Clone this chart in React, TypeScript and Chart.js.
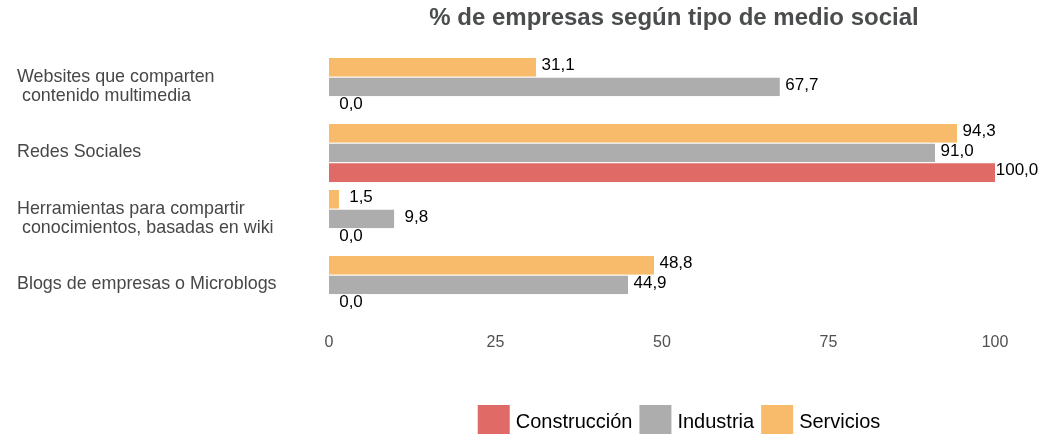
import React, { useEffect, useRef } from 'react';
import { Chart, registerables } from 'chart.js';

Chart.register(...registerables);

const chartTitle = '% de empresas según tipo de medio social';
const categories: (string | string[])[] = [
  ['Websites que comparten', ' contenido multimedia'],
  'Redes Sociales',
  ['Herramientas para compartir', ' conocimientos, basadas en wiki'],
  'Blogs de empresas o Microblogs',
];
const seriesNames = ['Servicios', 'Industria', 'Construcción'];
const servicios = [31.1, 94.3, 1.5, 48.8];
const industria = [67.7, 91.0, 9.8, 44.9];
const construccion = [0.0, 100.0, 0.0, 0.0];
const seriesColors = ['#F8BB6C', '#ADADAD', '#E06B66'];
const xTickValues = [0, 25, 50, 75, 100];

const FONT = "'Liberation Sans', Arial, sans-serif";

const fmt = (v: number) => v.toFixed(1).replace('.', ',');

const labelsPlugin = {
  id: 'valueLabels',
  afterDatasetsDraw(chart: any) {
    const ctx = chart.ctx;
    ctx.save();
    ctx.font = `17px ${FONT}`;
    ctx.fillStyle = '#000';
    ctx.textAlign = 'center';
    ctx.textBaseline = 'middle';
    chart.data.datasets.forEach((ds: any, di: number) => {
      const meta = chart.getDatasetMeta(di);
      meta.data.forEach((el: any, i: number) => {
        const v = ds.data[i];
        ctx.fillText(fmt(v), el.x + 22, el.y - 1.5);
      });
    });
    ctx.restore();
  },
};

const titlePlugin = {
  id: 'customTitle',
  afterDraw(chart: any) {
    const ctx = chart.ctx;
    ctx.save();
    ctx.font = `bold 24px ${FONT}`;
    ctx.fillStyle = '#4A4C4D';
    ctx.textAlign = 'center';
    ctx.textBaseline = 'middle';
    ctx.fillText(chartTitle, 674, 18);
    ctx.restore();
  },
};

const legendPlugin = {
  id: 'customLegend',
  afterDraw(chart: any) {
    const ctx = chart.ctx;
    const order = [2, 1, 0];
    const box = 32;
    const gapText = 6;
    const gapItem = 7;
    const cy = 421;
    ctx.save();
    ctx.font = `20px ${FONT}`;
    const widths = order.map((i) => ctx.measureText(chart.data.datasets[i].label).width);
    const total = widths.reduce((a: number, w: number) => a + box + gapText + w, 0) + gapItem * (order.length - 1);
    let x = 679 - total / 2;
    ctx.textBaseline = 'middle';
    ctx.textAlign = 'left';
    order.forEach((di, k) => {
      const ds = chart.data.datasets[di];
      ctx.fillStyle = ds.backgroundColor;
      ctx.fillRect(x, cy - box / 2, box, box);
      x += box + gapText;
      ctx.fillStyle = '#000';
      ctx.fillText(ds.label, x, cy + 1);
      x += widths[k] + gapItem;
    });
    ctx.restore();
  },
};

export default function App() {
  const ref = useRef<HTMLCanvasElement>(null);
  useEffect(() => {
    if (!ref.current) return;
    const seriesData = [servicios, industria, construccion];
    const chart = new Chart(ref.current, {
      type: 'bar',
      data: {
        labels: categories,
        datasets: seriesNames.map((name, i) => ({
          label: name,
          data: seriesData[i],
          backgroundColor: seriesColors[i],
          borderColor: 'rgba(255,255,255,0.7)',
          borderWidth: { top: 1, right: 0, bottom: 0, left: 0 },
          borderSkipped: false,
          categoryPercentage: 0.894,
          barPercentage: 1.0,
        })),
      },
      options: {
        indexAxis: 'y',
        responsive: false,
        animation: false,
        layout: { padding: { left: 17, right: 47, top: 53.5, bottom: 0 } },
        plugins: {
          legend: { display: false },
          title: { display: false },
          tooltip: { enabled: false },
        },
        scales: {
          x: {
            min: 0,
            max: 100,
            afterBuildTicks: (scale: any) => {
              scale.ticks = xTickValues.map((v) => ({ value: v }));
            },
            afterFit: (scale: any) => {
              scale.height = 116.5;
            },
            grid: { display: false, drawTicks: false },
            border: { display: false },
            ticks: {
              font: { family: FONT, size: 16 },
              color: '#505050',
              padding: 15,
              maxRotation: 0,
            },
          },
          y: {
            afterFit: (scale: any) => {
              scale.width = 312;
            },
            grid: { display: false, drawTicks: false },
            border: { display: false },
            ticks: {
              font: { family: FONT, size: 17.9, lineHeight: 1.1 },
              color: '#474747',
              crossAlign: 'far',
              padding: 0,
            },
          },
        },
      },
      plugins: [labelsPlugin, titlePlugin, legendPlugin],
    } as any);
    return () => chart.destroy();
  }, []);
  return (
    <div style={{ position: 'absolute', left: 0, top: 0, width: 1042, height: 434, background: '#fff' }}>
      <canvas ref={ref} width={1042} height={434} />
    </div>
  );
}
